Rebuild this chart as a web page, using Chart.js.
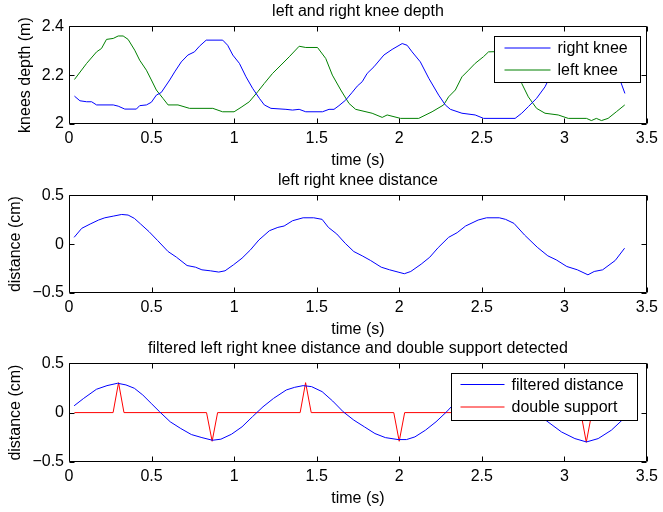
<!DOCTYPE html>
<html>
<head>
<meta charset="utf-8">
<script src="https://cdn.jsdelivr.net/npm/chart.js@4/dist/chart.umd.min.js"></script>
<style>
  body { margin: 0; background: #fff; }
  #wrap { position: relative; width: 663px; height: 512px; }
  #wrap canvas { position: absolute; left: 0; }
</style>
</head>
<body>
<div id="wrap">
  <canvas id="depthChart" width="663" height="170" style="top:0px"></canvas>
  <canvas id="distChart" width="663" height="170" style="top:169px"></canvas>
  <canvas id="filtChart" width="663" height="171" style="top:337px"></canvas>
</div>
<script>
// values (time in s)
const xTicks = [0, 0.5, 1, 1.5, 2, 2.5, 3, 3.5];

const rightKneeTime = [0.033, 0.066, 0.107, 0.137, 0.167, 0.268, 0.298, 0.338, 0.408, 0.428, 0.469, 0.499, 0.529, 0.559, 0.61, 0.64, 0.68, 0.72, 0.76, 0.79, 0.831, 0.931, 0.961, 0.992, 1.032, 1.072, 1.112, 1.153, 1.183, 1.223, 1.314, 1.354, 1.394, 1.434, 1.535, 1.575, 1.605, 1.635, 1.676, 1.716, 1.746, 1.776, 1.806, 1.847, 1.907, 1.957, 2.018, 2.048, 2.078, 2.128, 2.179, 2.239, 2.279, 2.31, 2.38, 2.46, 2.511, 2.702, 2.742, 2.782, 2.832, 2.883, 2.913, 2.97, 3.03, 3.1, 3.2, 3.28, 3.341, 3.367];
const rightKneeDepth = [2.114, 2.095, 2.091, 2.091, 2.078, 2.078, 2.073, 2.061, 2.061, 2.075, 2.078, 2.089, 2.118, 2.129, 2.18, 2.213, 2.254, 2.282, 2.295, 2.318, 2.343, 2.343, 2.322, 2.282, 2.248, 2.193, 2.146, 2.105, 2.078, 2.064, 2.06, 2.057, 2.06, 2.05, 2.05, 2.06, 2.06, 2.075, 2.098, 2.13, 2.155, 2.173, 2.207, 2.234, 2.282, 2.305, 2.329, 2.322, 2.295, 2.254, 2.187, 2.118, 2.078, 2.06, 2.044, 2.037, 2.023, 2.023, 2.044, 2.071, 2.105, 2.152, 2.193, 2.26, 2.32, 2.33, 2.31, 2.24, 2.173, 2.125];

const leftKneeTime = [0.033, 0.107, 0.167, 0.197, 0.227, 0.268, 0.298, 0.328, 0.358, 0.398, 0.428, 0.469, 0.499, 0.529, 0.569, 0.6, 0.66, 0.73, 0.871, 0.93, 1.0, 1.042, 1.092, 1.143, 1.183, 1.233, 1.284, 1.334, 1.394, 1.434, 1.505, 1.555, 1.595, 1.646, 1.696, 1.736, 1.836, 1.897, 1.927, 2.008, 2.118, 2.199, 2.269, 2.299, 2.34, 2.38, 2.42, 2.46, 2.51, 2.541, 2.64, 2.7, 2.742, 2.782, 2.832, 2.883, 2.963, 3.024, 3.134, 3.164, 3.194, 3.225, 3.265, 3.315, 3.366];
const leftKneeDepth = [2.182, 2.248, 2.295, 2.309, 2.346, 2.35, 2.36, 2.36, 2.346, 2.302, 2.261, 2.22, 2.18, 2.139, 2.105, 2.078, 2.078, 2.064, 2.064, 2.05, 2.05, 2.068, 2.091, 2.132, 2.166, 2.207, 2.241, 2.275, 2.318, 2.313, 2.313, 2.268, 2.2, 2.139, 2.084, 2.06, 2.044, 2.027, 2.037, 2.023, 2.023, 2.05, 2.078, 2.111, 2.139, 2.193, 2.22, 2.248, 2.275, 2.295, 2.297, 2.23, 2.166, 2.111, 2.064, 2.044, 2.037, 2.023, 2.023, 2.014, 2.023, 2.014, 2.023, 2.05, 2.078];

const distTime = [0.031, 0.077, 0.128, 0.179, 0.217, 0.268, 0.319, 0.358, 0.396, 0.434, 0.485, 0.537, 0.6, 0.651, 0.715, 0.766, 0.805, 0.856, 0.907, 0.945, 0.996, 1.048, 1.099, 1.15, 1.214, 1.265, 1.303, 1.354, 1.418, 1.482, 1.533, 1.571, 1.622, 1.673, 1.725, 1.776, 1.827, 1.891, 1.942, 1.993, 2.031, 2.07, 2.133, 2.185, 2.236, 2.299, 2.351, 2.402, 2.478, 2.529, 2.606, 2.644, 2.695, 2.759, 2.836, 2.9, 2.951, 3.015, 3.079, 3.143, 3.181, 3.232, 3.308, 3.365];
const distValue = [0.069, 0.161, 0.205, 0.246, 0.269, 0.286, 0.303, 0.297, 0.263, 0.205, 0.127, 0.036, -0.076, -0.134, -0.219, -0.236, -0.263, -0.273, -0.286, -0.273, -0.212, -0.144, -0.059, 0.042, 0.137, 0.171, 0.185, 0.239, 0.269, 0.269, 0.253, 0.171, 0.103, 0.008, -0.076, -0.12, -0.168, -0.236, -0.263, -0.286, -0.303, -0.28, -0.205, -0.134, -0.036, 0.069, 0.117, 0.185, 0.246, 0.269, 0.269, 0.253, 0.212, 0.093, -0.032, -0.12, -0.161, -0.229, -0.263, -0.314, -0.28, -0.263, -0.168, -0.042];

const filtTime = [0.031, 0.089, 0.166, 0.23, 0.294, 0.345, 0.396, 0.447, 0.498, 0.549, 0.613, 0.677, 0.741, 0.805, 0.869, 0.92, 0.984, 1.048, 1.111, 1.175, 1.239, 1.316, 1.367, 1.418, 1.469, 1.533, 1.597, 1.661, 1.725, 1.789, 1.853, 1.916, 1.993, 2.044, 2.095, 2.159, 2.223, 2.287, 2.325, 2.4, 2.47, 2.55, 2.62, 2.7, 2.78, 2.883, 2.983, 3.064, 3.134, 3.205, 3.285, 3.367];
const filtValue = [0.069, 0.144, 0.236, 0.273, 0.297, 0.28, 0.246, 0.178, 0.093, 0.008, -0.093, -0.161, -0.222, -0.253, -0.28, -0.269, -0.219, -0.144, -0.042, 0.059, 0.144, 0.229, 0.256, 0.273, 0.263, 0.212, 0.117, 0.008, -0.076, -0.144, -0.212, -0.253, -0.273, -0.273, -0.246, -0.178, -0.093, 0.008, 0.076, 0.18, 0.25, 0.27, 0.26, 0.2, 0.09, -0.072, -0.196, -0.263, -0.297, -0.263, -0.178, -0.05];

const supportTime = [0.033, 0.267, 0.3, 0.333, 0.833, 0.867, 0.9, 1.4, 1.433, 1.467, 1.967, 2.0, 2.033, 3.1, 3.133, 3.167, 3.367];
const supportValue = [0, 0, 0.303, 0, 0, -0.29, 0, 0, 0.303, 0, 0, -0.29, 0, 0, -0.3, 0, 0];

const FONT = '"Liberation Sans", Arial, Helvetica, sans-serif';
Chart.defaults.font.family = FONT;
Chart.defaults.font.size = 16;
Chart.defaults.color = '#000';

const toPoints = (xs, ys) => xs.map((x, i) => ({ x: x, y: ys[i] }));
const fmt = v => String(Math.round(v * 10) / 10).replace('-', '\u2212');

// box round the axes, with inward tick marks on all four sides
const matlabFrame = {
    id: 'matlabFrame',
    afterDatasetsDraw(chart) {
        const { ctx, chartArea: a, scales: { x, y } } = chart;
        const L = Math.round(a.left) + 0.5, R = Math.round(a.right) - 0.5;
        const T = Math.round(a.top) + 0.5, B = Math.round(a.bottom) - 0.5;
        ctx.save();
        ctx.strokeStyle = '#000';
        ctx.lineWidth = 1;
        ctx.beginPath();
        ctx.rect(L, T, R - L, B - T);
        x.ticks.forEach(t => {
            const px = Math.round(x.getPixelForValue(t.value)) + 0.5;
            ctx.moveTo(px, B); ctx.lineTo(px, B - 5);
            ctx.moveTo(px, T); ctx.lineTo(px, T + 5);
        });
        y.ticks.forEach(t => {
            const py = Math.round(y.getPixelForValue(t.value)) + 0.5;
            ctx.moveTo(L, py); ctx.lineTo(L + 5, py);
            ctx.moveTo(R, py); ctx.lineTo(R - 5, py);
        });
        ctx.stroke();
        ctx.restore();
    }
};

// legend drawn inside the axes, covering the lines like MATLAB does
const insetLegend = {
    id: 'insetLegend',
    afterDatasetsDraw(chart, args, opts) {
        if (!opts.box) return;
        const { ctx, chartArea: a } = chart;
        const bx = Math.round(a.right - opts.box.right - opts.box.w) + 0.5;
        const by = Math.round(a.top + opts.box.top) + 0.5;
        ctx.save();
        ctx.fillStyle = '#fff';
        ctx.fillRect(bx, by, opts.box.w, opts.box.h);
        ctx.strokeStyle = '#000';
        ctx.lineWidth = 1;
        ctx.strokeRect(bx, by, opts.box.w, opts.box.h);
        ctx.font = '16px ' + FONT;
        ctx.textBaseline = 'middle';
        ctx.fillStyle = '#000';
        chart.data.datasets.forEach((ds, i) => {
            const ry = by + opts.box.rows[i];
            ctx.strokeStyle = ds.borderColor;
            ctx.beginPath();
            ctx.moveTo(bx + opts.box.line[0], ry);
            ctx.lineTo(bx + opts.box.line[1], ry);
            ctx.stroke();
            ctx.fillText(ds.label, bx + opts.box.text, ry + 1);
        });
        ctx.restore();
    }
};

function makeChart(id, cfg) {
    const ctx = document.getElementById(id).getContext('2d');
    return new Chart(ctx, {
        type: 'line',
        data: {
            datasets: cfg.series.map(s => ({
                label: s.label,
                data: s.data,
                borderColor: s.color,
                borderWidth: 1,
                pointRadius: 0,
                tension: 0,
                fill: false
            }))
        },
        options: {
            responsive: false,
            animation: false,
            devicePixelRatio: 1,
            layout: { padding: { left: 0, right: 14, top: 0, bottom: 0 } },
            plugins: {
                legend: { display: false },
                tooltip: { enabled: false },
                title: {
                    display: true,
                    fullSize: false,   // centre over the axes, not the canvas
                    text: cfg.title,
                    font: { size: 16, weight: 'normal' },
                    padding: { top: 2, bottom: 5 }
                },
                insetLegend: { box: cfg.legendBox }
            },
            scales: {
                x: {
                    type: 'linear',
                    min: 0, max: 3.5,
                    afterBuildTicks: s => { s.ticks = xTicks.map(v => ({ value: v })); },
                    ticks: { callback: fmt, padding: 5, maxRotation: 0, autoSkip: false },
                    grid: { display: false, drawTicks: false },
                    border: { display: false },
                    title: { display: true, text: 'time (s)', padding: { top: 0, bottom: 0 } },
                    afterFit: s => { s.height = 46; }
                },
                y: {
                    type: 'linear',
                    min: cfg.yMin, max: cfg.yMax,
                    afterBuildTicks: s => { s.ticks = cfg.yTicks.map(v => ({ value: v })); },
                    ticks: { callback: fmt, padding: 5 },
                    grid: { display: false, drawTicks: false },
                    border: { display: false },
                    title: { display: true, text: cfg.yTitle, padding: { top: cfg.yTitlePad, bottom: 0 } },
                    afterFit: s => { s.width = 69; }
                }
            }
        },
        plugins: [matlabFrame, insetLegend]
    });
}

makeChart('depthChart', {
    title: 'left and right knee depth',
    yTitle: 'knees depth (m)',
    yTitlePad: 16,
    yMin: 2, yMax: 2.4,
    yTicks: [2, 2.2, 2.4],
    series: [
        { label: 'right knee', color: '#0000ff', data: toPoints(rightKneeTime, rightKneeDepth) },
        { label: 'left knee', color: '#008000', data: toPoints(leftKneeTime, leftKneeDepth) }
    ],
    legendBox: { right: 7, top: 10, w: 146, h: 46, line: [10, 56], text: 63, rows: [11.5, 33.5] }
});

makeChart('distChart', {
    title: 'left right knee distance',
    yTitle: 'distance (cm)',
    yTitlePad: 6,
    yMin: -0.5, yMax: 0.5,
    yTicks: [-0.5, 0, 0.5],
    series: [
        { label: 'distance', color: '#0000ff', data: toPoints(distTime, distValue) }
    ],
    legendBox: null
});

makeChart('filtChart', {
    title: 'filtered left right knee distance and double support detected',
    yTitle: 'distance (cm)',
    yTitlePad: 6,
    yMin: -0.5, yMax: 0.5,
    yTicks: [-0.5, 0, 0.5],
    series: [
        { label: 'filtered distance', color: '#0000ff', data: toPoints(filtTime, filtValue) },
        { label: 'double support', color: '#ff0000', data: toPoints(supportTime, supportValue) }
    ],
    legendBox: { right: 10, top: 10, w: 186, h: 47, line: [9, 53], text: 60, rows: [11, 33.5] }
});
</script>
</body>
</html>
